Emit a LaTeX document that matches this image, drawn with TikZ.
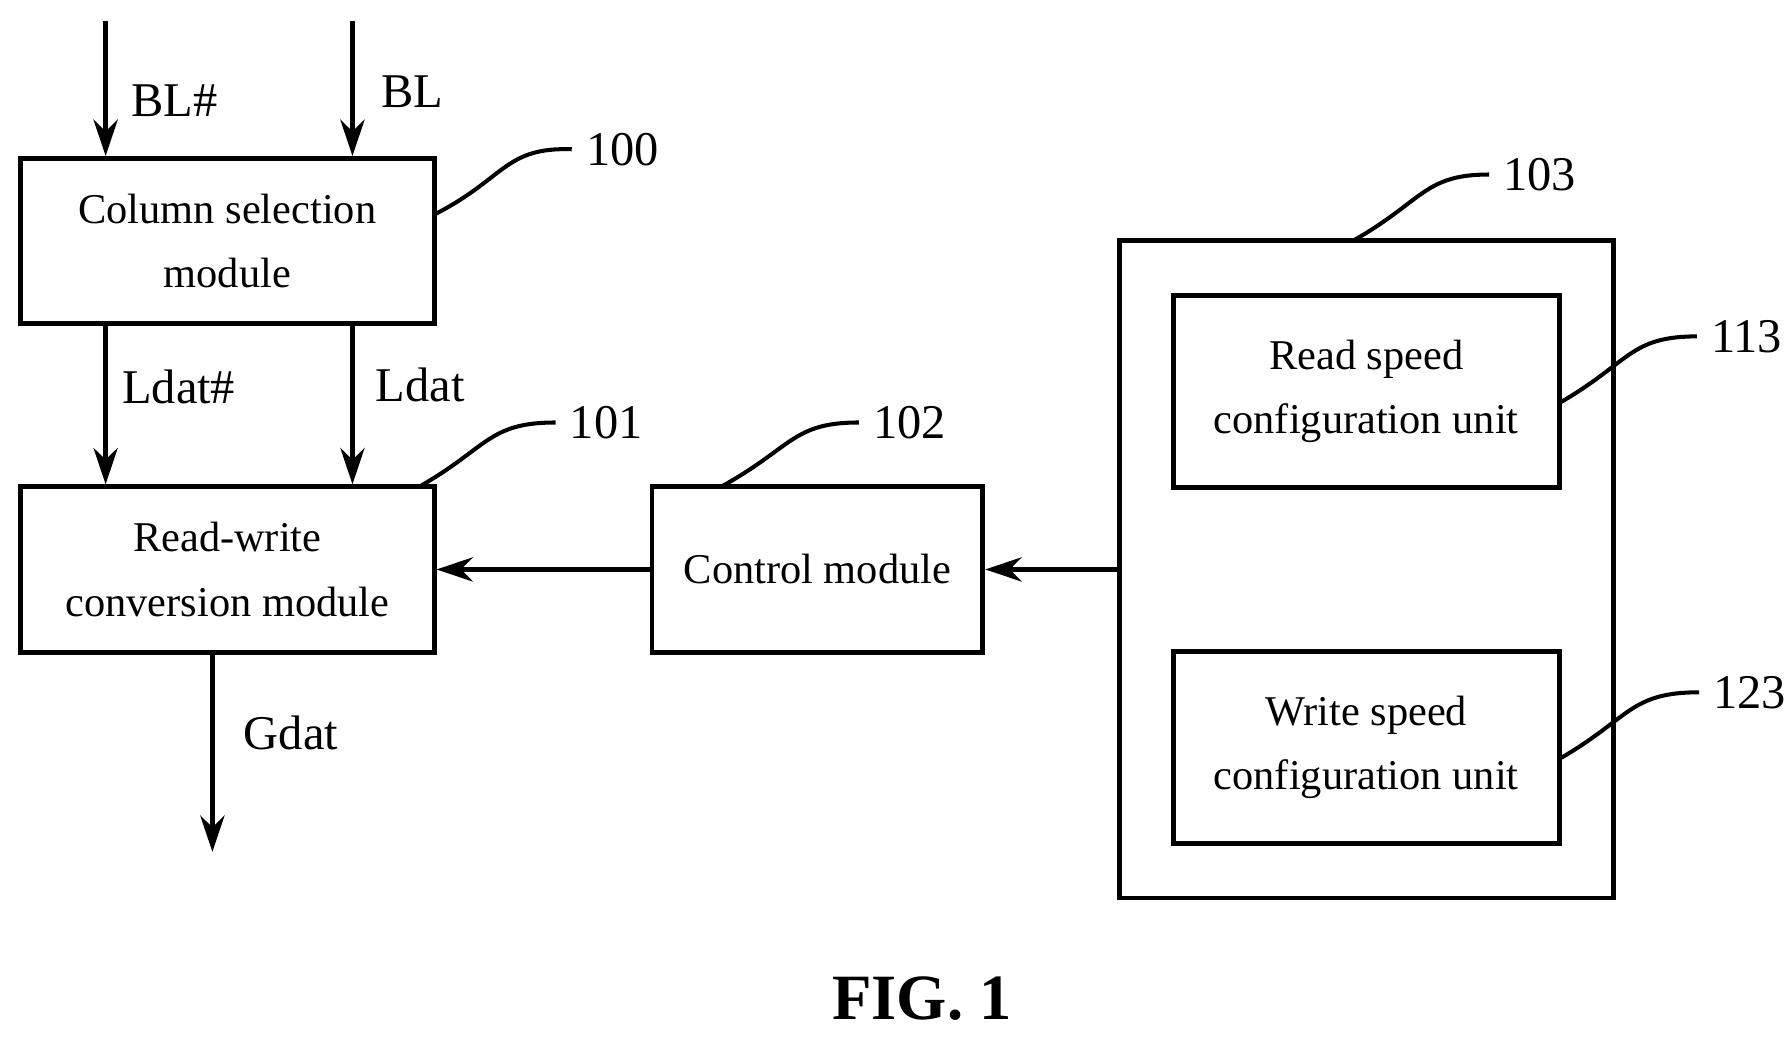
\documentclass[tikz,border=0pt]{standalone}
\usepackage{fontspec}
\usetikzlibrary{arrows.meta}
\setmainfont{Liberation Serif}
\begin{document}
\begin{tikzpicture}[x=0.01cm,y=-0.01cm,
  box/.style={draw,line width=1.2pt,inner sep=0pt,align=center,font=\fontsize{10.5pt}{16pt}\selectfont},
  arr/.style={line width=1.2pt,-{Stealth[length=9pt,width=6pt]}},
  lead/.style={line width=1pt},
  lbl/.style={font=\fontsize{12pt}{14pt}\selectfont},
  num/.style={font=\fontsize{12pt}{14pt}\selectfont,anchor=west}]
\useasboundingbox (0,0) rectangle (1560,903);
\node[box,minimum width=3.6cm,minimum height=1.44cm] (cs) at (198,210) {Column selection\\module};
\node[box,minimum width=3.6cm,minimum height=1.44cm] (rw) at (198,496) {Read-write\\conversion module};
\node[box,minimum width=2.88cm,minimum height=1.44cm] (cm) at (712,496) {Control module};
\node[box,minimum width=4.3cm,minimum height=5.72cm] (ob) at (1190,496) {};
\node[box,minimum width=3.36cm,minimum height=1.67cm] (rs) at (1190,341) {Read speed\\configuration unit};
\node[box,minimum width=3.36cm,minimum height=1.67cm] (ws) at (1190,651) {Write speed\\configuration unit};
\coordinate (b1) at (92,18); \coordinate (b2) at (307,18);
\coordinate (g) at (185,742);
\draw[arr] (b1) -- (cs.north -| b1);
\draw[arr] (b2) -- (cs.north -| b2);
\draw[arr] (cs.south -| b1) -- (rw.north -| b1);
\draw[arr] (cs.south -| b2) -- (rw.north -| b2);
\draw[arr] (rw.south -| g) -- (g);
\draw[arr] (cm.west) -- (rw.east);
\draw[arr] (ob.west) -- (cm.east);
\node[lbl,anchor=west] at (102,88) {BL\#};
\node[lbl,anchor=west] at (320,80) {BL};
\node[lbl,anchor=west] at (94,337) {Ldat\#};
\node[lbl,anchor=west] at (315,335) {Ldat};
\node[lbl,anchor=west] at (200,638) {Gdat};
\node[num] (n100) at (498,130) {100};
\node[num] (n101) at (484,368) {101};
\node[num] (n102) at (748,368) {102};
\node[num] (n103) at (1297,152) {103};
\node[num] (n113) at (1478,293) {113};
\node[num] (n123) at (1480,603) {123};
\draw[lead] (380,186) .. controls (440,155) and (440,128) .. (n100.west);
\draw[lead] (365,424) .. controls (425,390) and (425,368) .. (n101.west);
\draw[lead] (628,424) .. controls (690,390) and (690,368) .. (n102.west);
\draw[lead] (1178,210) .. controls (1240,175) and (1240,152) .. (n103.west);
\draw[lead] (1360,350) .. controls (1420,315) and (1420,293) .. (n113.west);
\draw[lead] (1360,660) .. controls (1420,625) and (1420,603) .. (n123.west);
\node[font=\bfseries\fontsize{16pt}{18pt}\selectfont] (fig) at (803,870) {FIG. 1};
\end{tikzpicture}
\end{document}
